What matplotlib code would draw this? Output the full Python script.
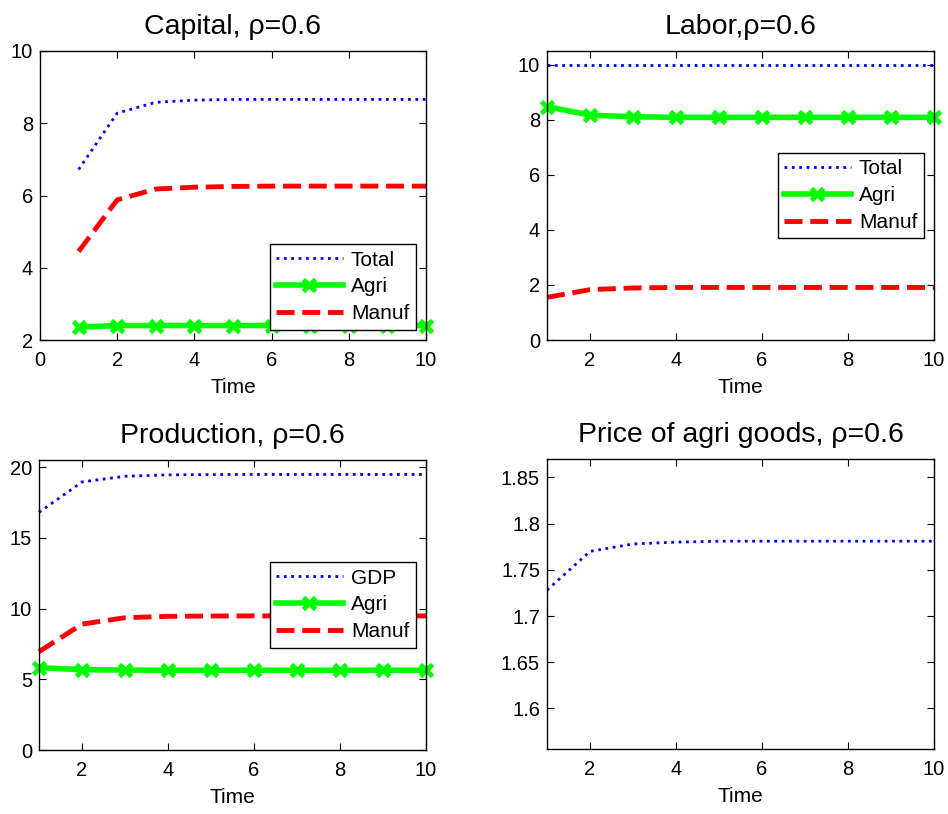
import matplotlib
matplotlib.use("Agg")
import matplotlib.pyplot as plt

plt.rcParams['font.family'] = ['Liberation Sans', 'DejaVu Sans']

time = [1, 2, 3, 4, 5, 6, 7, 8, 9, 10]

cap_total = [6.72, 8.28, 8.58, 8.64, 8.66, 8.66, 8.66, 8.66, 8.66, 8.66]
cap_agri = [2.36, 2.40, 2.40, 2.40, 2.40, 2.40, 2.40, 2.40, 2.40, 2.40]
cap_manuf = [4.45, 5.88, 6.18, 6.23, 6.25, 6.26, 6.26, 6.26, 6.26, 6.26]

lab_total = [10, 10, 10, 10, 10, 10, 10, 10, 10, 10]
lab_agri = [8.48, 8.17, 8.11, 8.09, 8.09, 8.09, 8.09, 8.09, 8.09, 8.09]
lab_manuf = [1.55, 1.83, 1.89, 1.91, 1.91, 1.91, 1.91, 1.91, 1.91, 1.91]

prod_gdp = [16.8, 18.95, 19.35, 19.45, 19.47, 19.48, 19.48, 19.48, 19.48, 19.48]
prod_agri = [5.82, 5.68, 5.65, 5.64, 5.64, 5.64, 5.64, 5.64, 5.64, 5.64]
prod_manuf = [6.95, 8.9, 9.35, 9.45, 9.47, 9.48, 9.48, 9.48, 9.48, 9.48]

price_agri = [1.728, 1.770, 1.778, 1.780, 1.781, 1.781, 1.781, 1.781, 1.781, 1.781]

W, H = 948, 814
fig = plt.figure(figsize=(W / 100, H / 100), dpi=100)

def add_ax(l, r, t, b):
    return fig.add_axes([l / W, 1 - b / H, (r - l) / W, (b - t) / H])

TICK = 14.5
LEG = 15
LAB = 15
TIT = 20.5

def style(ax):
    ax.tick_params(direction='in', length=5, width=0.8, top=True, right=True,
                   labelsize=TICK)
    ax.tick_params(axis='x', pad=8)
    ax.tick_params(axis='y', pad=5)
    for s in ax.spines.values():
        s.set_linewidth(1.0)
    ax.set_xlabel('Time', fontsize=LAB, labelpad=6)

def three(ax, x, a, b, c, names):
    ax.plot(x, a, ':', color='#0000ff', lw=2.0, label=names[0])
    ax.plot(x, b, '-', color='#00ff00', lw=4, marker='x', ms=8, mew=3.5, label=names[1])
    ax.plot(x, c, '--', color='#ff0000', lw=3.5, label=names[2])

def legend(ax, loc):
    lg = ax.legend(loc=loc, fontsize=LEG, fancybox=False, framealpha=1,
                   edgecolor='black', handlelength=3.2, borderpad=0.3,
                   labelspacing=0.38, handletextpad=0.4, borderaxespad=0.5)
    lg.get_frame().set_linewidth(1.0)
    lg.set_zorder(5)

ax1 = add_ax(40, 426, 51, 340)
three(ax1, time, cap_total, cap_agri, cap_manuf, ['Total', 'Agri', 'Manuf'])
ax1.set_xlim(0, 10)
ax1.set_ylim(2, 10)
ax1.set_xticks([0, 2, 4, 6, 8, 10])
ax1.set_yticks([2, 4, 6, 8, 10])
ax1.set_title('Capital, \u03c1=0.6', fontsize=TIT, pad=12)
style(ax1)
legend(ax1, 'lower right')

ax2 = add_ax(547, 934, 51, 340)
three(ax2, time, lab_total, lab_agri, lab_manuf, ['Total', 'Agri', 'Manuf'])
ax2.set_xlim(1, 10)
ax2.set_ylim(0, 10.5)
ax2.set_xticks([2, 4, 6, 8, 10])
ax2.set_yticks([0, 2, 4, 6, 8, 10])
ax2.set_title('Labor,\u03c1=0.6', fontsize=TIT, pad=12)
style(ax2)
legend(ax2, 'center right')

ax3 = add_ax(39, 426, 460, 750)
three(ax3, time, prod_gdp, prod_agri, prod_manuf, ['GDP', 'Agri', 'Manuf'])
ax3.set_xlim(1, 10)
ax3.set_ylim(0, 20.5)
ax3.set_xticks([2, 4, 6, 8, 10])
ax3.set_yticks([0, 5, 10, 15, 20])
ax3.set_title('Production, \u03c1=0.6', fontsize=TIT, pad=12)
style(ax3)
legend(ax3, 'center right')

ax4 = add_ax(547, 934, 459, 749)
ax4.plot(time, price_agri, ':', color='#0000ff', lw=2.0)
ax4.set_xlim(1, 10)
ax4.set_ylim(1.556, 1.87)
ax4.set_xticks([2, 4, 6, 8, 10])
ax4.set_yticks([1.6, 1.65, 1.7, 1.75, 1.8, 1.85])
ax4.set_yticklabels(['1.6', '1.65', '1.7', '1.75', '1.8', '1.85'])
ax4.set_title('Price of agri goods, \u03c1=0.6', fontsize=TIT, pad=12)
style(ax4)

for ax in (ax1, ax2, ax3):
    for ln in ax.lines:
        ln.set_clip_on(False)

fig.savefig('out.png', dpi=100)
